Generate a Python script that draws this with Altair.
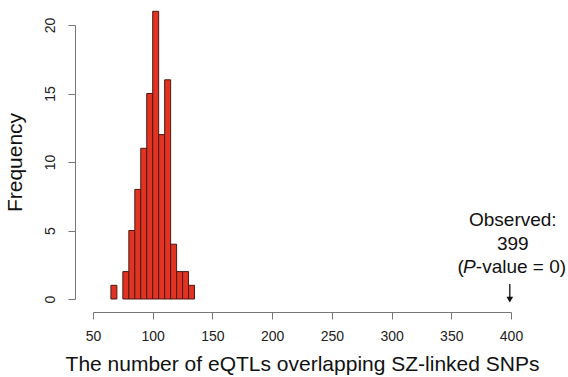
import altair as alt
import pandas as pd

# Histogram data (bins of width 5)
bin_start = [65, 70, 75, 80, 85, 90, 95, 100, 105, 110, 115, 120, 125, 130]
counts    = [1, 0, 2, 5, 8, 11, 15, 21, 12, 16, 4, 2, 2, 1]
bin_width = 5

x_ticks = [50, 100, 150, 200, 250, 300, 350, 400]
y_ticks = [0, 5, 10, 15, 20]

observed = 399
obs_lines = ["Observed:", "399"]
obs_line_y = [5.8, 4.05]
pval_y = 2.3
arrow_top, arrow_tip = 1.1, -0.35

df = pd.DataFrame({
    "start": [s for s, c in zip(bin_start, counts) if c > 0],
    "end": [s + bin_width for s, c in zip(bin_start, counts) if c > 0],
    "count": [c for c in counts if c > 0],
})

FONT = "Liberation Sans"
xs = alt.Scale(domain=[50, 400], nice=False, zero=False)
ys = alt.Scale(domain=[0, 20], nice=False)

bars = alt.Chart(df).mark_rect(
    fill="#e23222", stroke="#4a1a12", strokeWidth=1
).encode(
    x=alt.X("start:Q", scale=xs, axis=alt.Axis(
        values=x_ticks, title="The number of eQTLs overlapping SZ-linked SNPs",
        grid=False, offset=13, tickSize=7, domainColor="#777", tickColor="#777",
        labelFont=FONT, labelFontSize=14, labelColor="#222", labelPadding=10,
        titleFont=FONT, titleFontSize=21, titleFontWeight="normal", titleColor="#111",
        titlePadding=10, labelFlush=False)),
    x2="end:Q",
    y=alt.Y("count:Q", scale=ys, axis=alt.Axis(
        values=y_ticks, title="Frequency", grid=False, offset=18, tickSize=7,
        domainColor="#777", tickColor="#777",
        labelFont=FONT, labelFontSize=14, labelColor="#222", labelAngle=-90,
        labelAlign="center", labelBaseline="bottom", labelPadding=11,
        titleFont=FONT, titleFontSize=21, titleFontWeight="normal", titleColor="#111",
        titlePadding=18, labelFlush=False)),
    y2=alt.datum(0),
)

ann = pd.DataFrame({"x": [observed] * len(obs_lines), "y": obs_line_y, "t": obs_lines})
obs_text = alt.Chart(ann).mark_text(
    font=FONT, fontSize=19, color="#111", align="center", baseline="middle", dx=3
).encode(x=alt.X("x:Q", scale=xs), y=alt.Y("y:Q", scale=ys), text="t:N")

pdf = pd.DataFrame({"x": [observed], "y": [pval_y]})
p_open = alt.Chart(pdf).mark_text(
    font=FONT, fontSize=19, color="#111", align="right", baseline="middle", dx=-46, text="("
).encode(x=alt.X("x:Q", scale=xs), y=alt.Y("y:Q", scale=ys))
p_ital = alt.Chart(pdf).mark_text(
    font=FONT, fontSize=19, fontStyle="italic", color="#111", align="right",
    baseline="middle", dx=-34, text="P"
).encode(x=alt.X("x:Q", scale=xs), y=alt.Y("y:Q", scale=ys))
p_rest = alt.Chart(pdf).mark_text(
    font=FONT, fontSize=19, color="#111", align="left", baseline="middle", dx=-34,
    text="-value = 0)"
).encode(x=alt.X("x:Q", scale=xs), y=alt.Y("y:Q", scale=ys))

adf = pd.DataFrame({"x": [observed], "y": [arrow_top], "y2": [arrow_tip + 0.4]})
shaft = alt.Chart(adf).mark_rule(color="#111", strokeWidth=1.3).encode(
    x=alt.X("x:Q", scale=xs), y=alt.Y("y:Q", scale=ys), y2="y2:Q")
hdf = pd.DataFrame({"x": [observed], "y": [arrow_tip + 0.3]})
head = alt.Chart(hdf).mark_point(
    shape="triangle-down", filled=True, color="#111", size=45, opacity=1
).encode(x=alt.X("x:Q", scale=xs), y=alt.Y("y:Q", scale=ys))

chart = alt.layer(bars, shaft, head, obs_text, p_open, p_ital, p_rest).properties(
    width=418, height=274,
    autosize=alt.AutoSizeParams(type="none"),
    padding={"left": 93, "top": 25, "right": 57, "bottom": 78},
).configure(
    background="white",
    view=alt.ViewConfig(strokeWidth=0, stroke="transparent"),
)

chart.save("out.html", embed_options={"renderer": "svg", "actions": False})
